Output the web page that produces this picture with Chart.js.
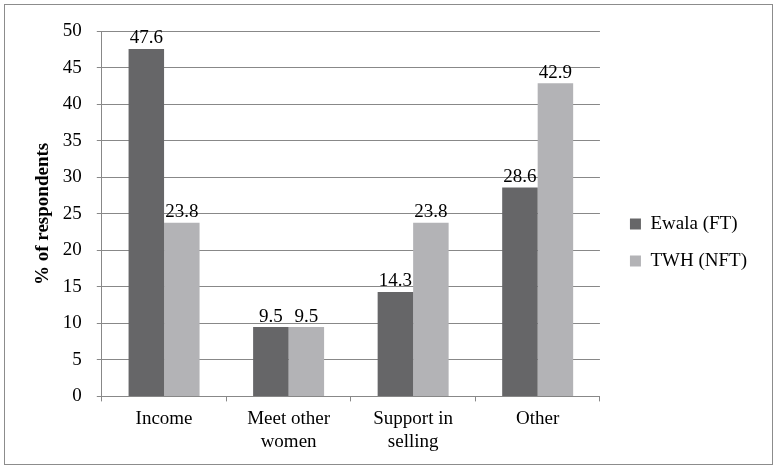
<!DOCTYPE html>
<html>
<head>
<meta charset="utf-8">
<script src="https://cdn.jsdelivr.net/npm/chart.js@4"></script>
<style>
  body { margin: 0; background: #fff; }
  #box { position: absolute; left: 4px; top: 4px; width: 767px; height: 459px; border: 1px solid #8c8c8c; }
  canvas { display: block; }
</style>
</head>
<body>
<div id="box"><canvas id="myChart" width="767" height="459"></canvas></div>
<script>
// Start Data
const categories = ["Income", ["Meet other", "women"], ["Support in", "selling"], "Other"];
const ewalaValues = [47.6, 9.5, 14.3, 28.6];
const twhValues = [23.8, 9.5, 23.8, 42.9];
const yTicks = [0, 5, 10, 15, 20, 25, 30, 35, 40, 45, 50];
// End Data

const serif = "'Liberation Serif', 'Times New Roman', serif";
const legendGap = 12; // extra space between plot and legend

// value labels above each bar
const barLabels = {
  id: "barLabels",
  afterDatasetsDraw(chart) {
    const ctx = chart.ctx;
    ctx.save();
    ctx.font = "19px " + serif;
    ctx.fillStyle = "#000";
    ctx.textAlign = "center";
    ctx.textBaseline = "bottom";
    chart.data.datasets.forEach((ds, i) => {
      chart.getDatasetMeta(i).data.forEach((bar, j) => {
        ctx.fillText(ds.data[j].toFixed(1), bar.x, bar.y - 1);
      });
    });
    ctx.restore();
  },
};

// push the legend a bit away from the plot
const legendShift = {
  id: "legendShift",
  beforeLayout(chart) {
    const lg = chart.legend;
    if (!lg || lg._shifted) return;
    lg._shifted = true;
    const fit = lg.fit;
    lg.fit = function () { fit.call(this); this.width += legendGap; };
    const draw = lg.draw;
    lg.draw = function () {
      this.ctx.save();
      this.ctx.translate(legendGap, 0);
      draw.call(this);
      this.ctx.restore();
    };
  },
};

const chart = new Chart(document.getElementById("myChart"), {
  type: "bar",
  data: {
    labels: categories,
    datasets: [
      { label: "Ewala (FT)", data: ewalaValues, backgroundColor: "#666668" },
      { label: "TWH (NFT)", data: twhValues, backgroundColor: "#b3b3b6" },
    ],
  },
  options: {
    responsive: false,
    animation: false,
    layout: { padding: { top: 21, right: 15, bottom: 5, left: 27 } },
    datasets: { bar: { categoryPercentage: 0.57, barPercentage: 1 } },
    scales: {
      x: {
        grid: { display: true, drawOnChartArea: false, drawTicks: true, tickLength: 5, color: "#888" },
        border: { color: "#888" },
        ticks: { color: "#000", font: { family: serif, size: 19 }, padding: 6 },
      },
      y: {
        min: 0,
        max: 50,
        afterBuildTicks: (axis) => { axis.ticks = yTicks.map((v) => ({ value: v })); },
        grid: { color: "#888", tickLength: 5 },
        border: { color: "#888" },
        ticks: { color: "#000", font: { family: serif, size: 19 }, padding: 15 },
        title: {
          display: true,
          text: "% of respondents",
          color: "#000",
          font: { family: serif, size: 19, weight: "bold" },
          padding: { top: 0, bottom: -7 },
        },
      },
    },
    plugins: {
      legend: {
        position: "right",
        labels: {
          color: "#000",
          boxWidth: 11,
          boxHeight: 11,
          padding: 18,
          font: { family: serif, size: 19 },
        },
      },
      tooltip: { enabled: false },
    },
  },
  plugins: [barLabels, legendShift],
});
</script>
</body>
</html>
